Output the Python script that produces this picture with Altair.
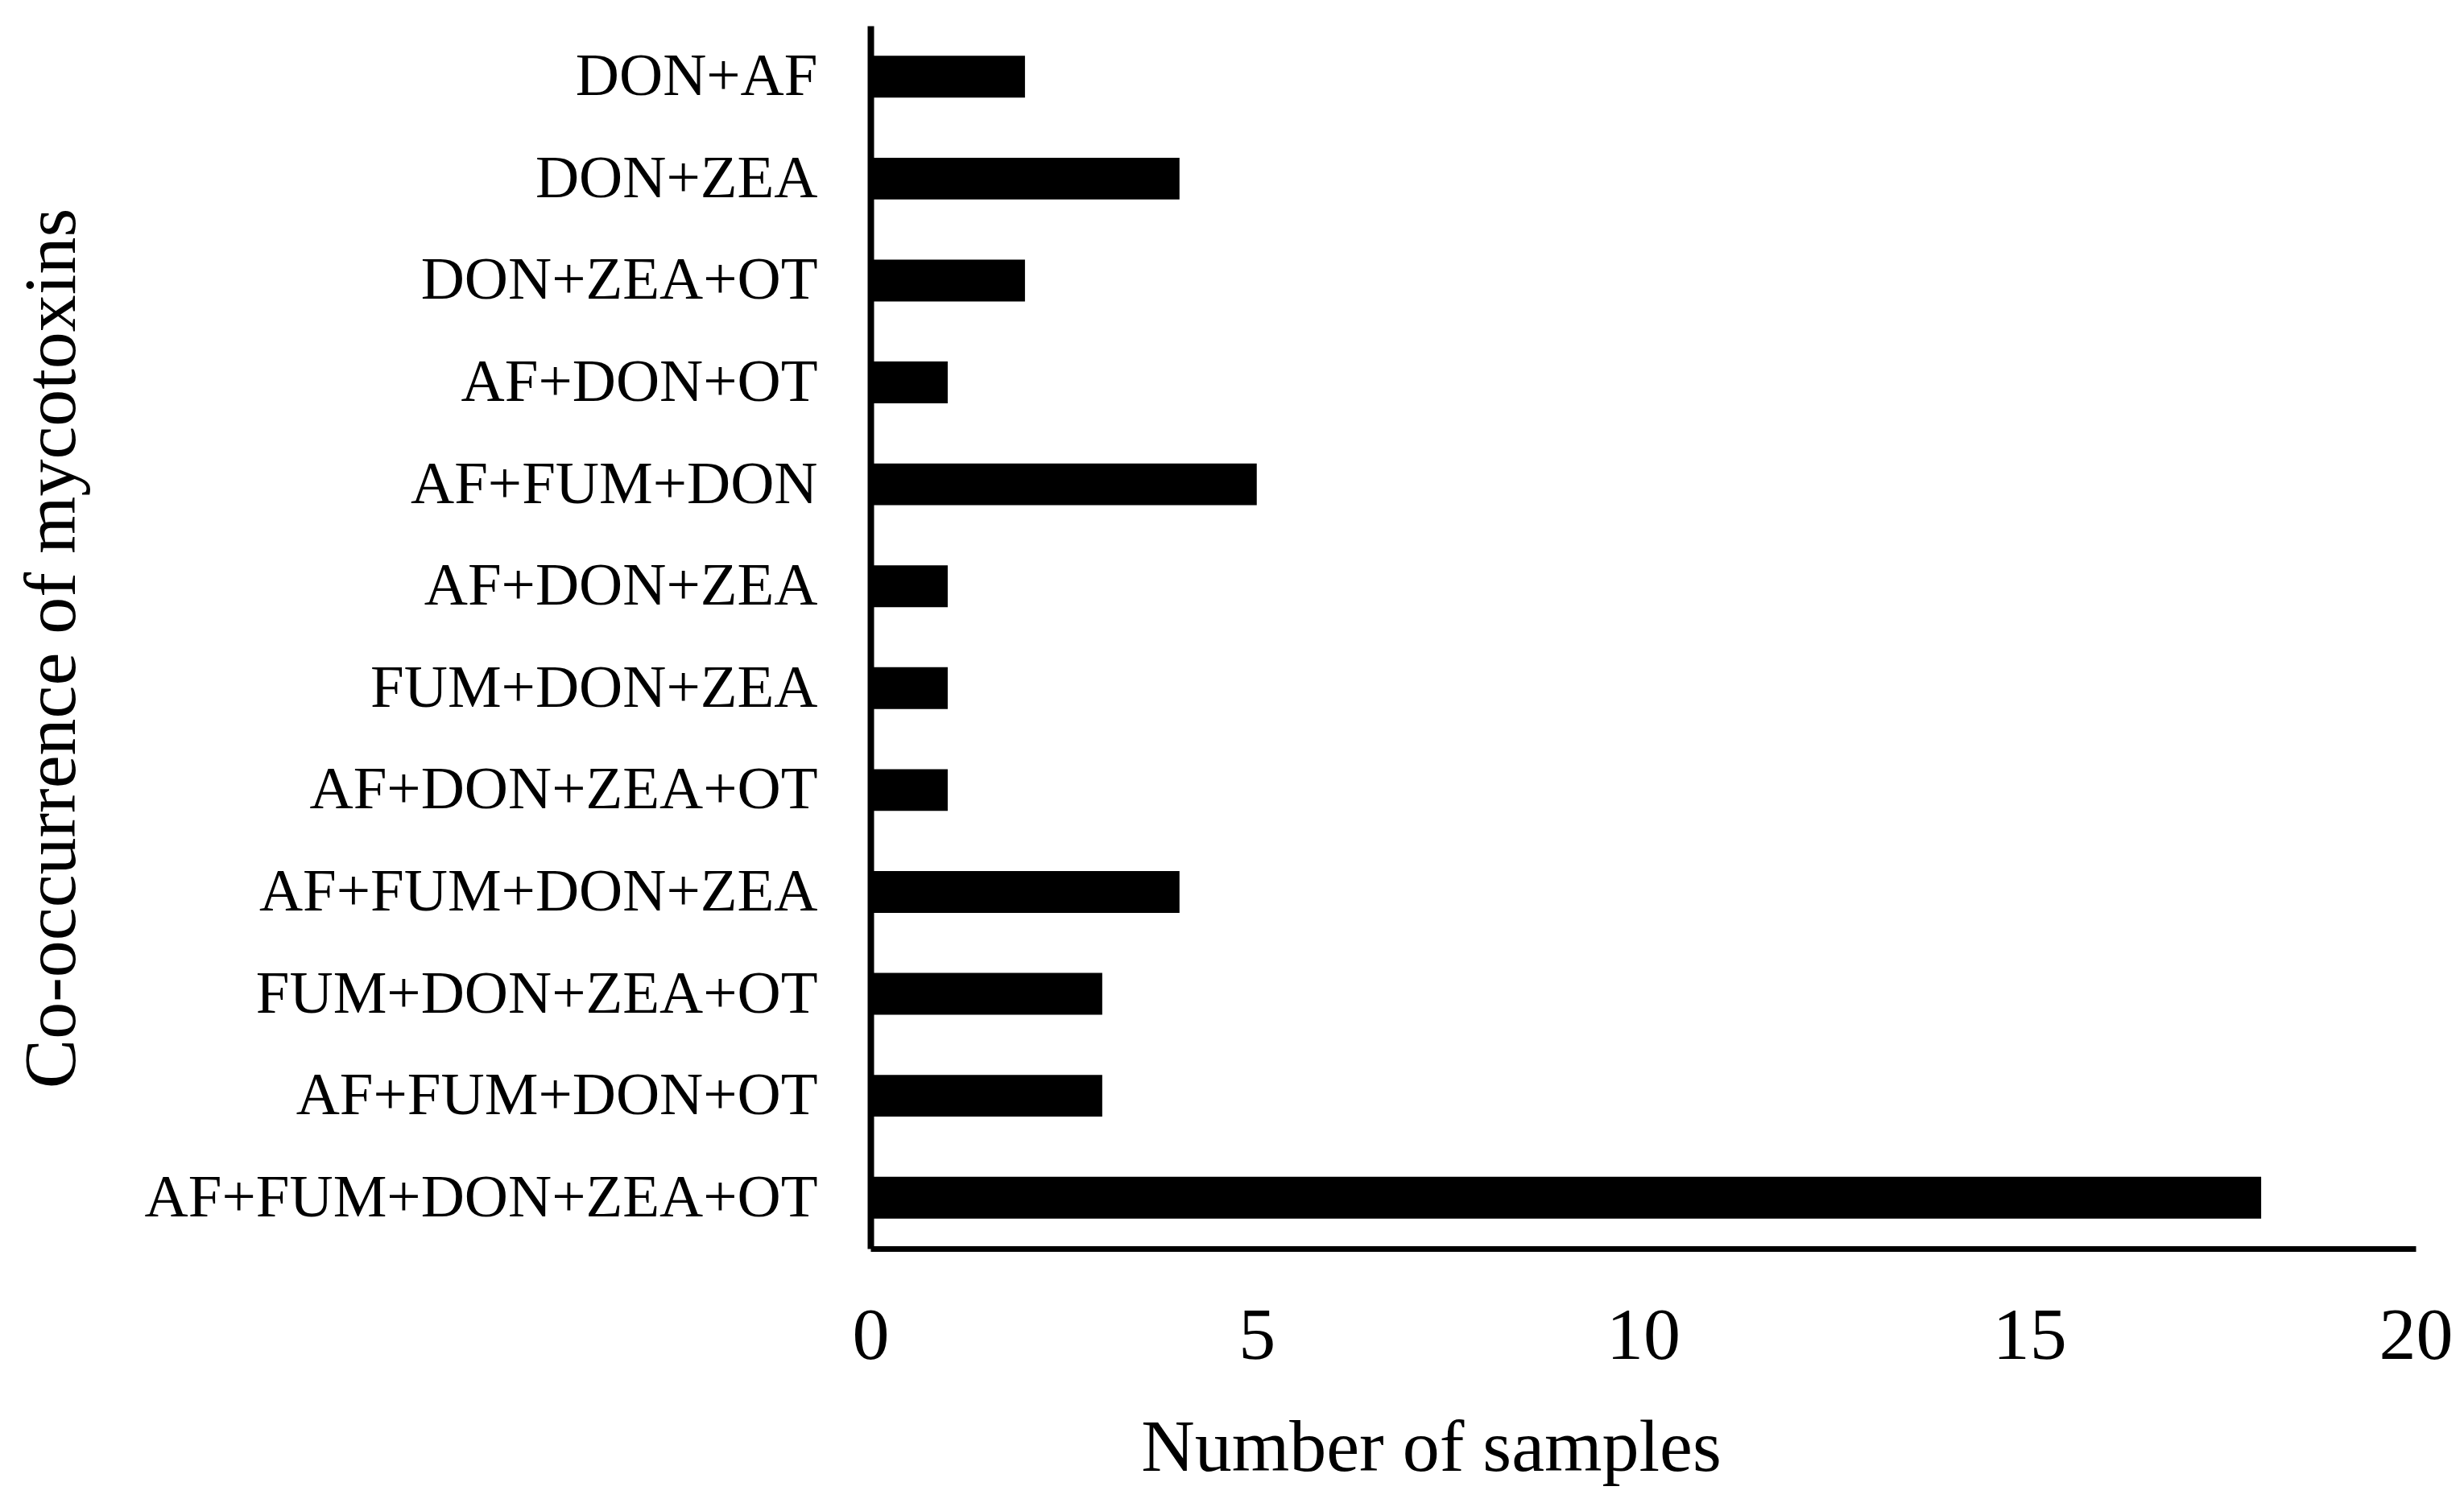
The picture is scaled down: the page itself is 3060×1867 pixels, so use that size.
import altair as alt
import pandas as pd

categories = [
    "DON+AF",
    "DON+ZEA",
    "DON+ZEA+OT",
    "AF+DON+OT",
    "AF+FUM+DON",
    "AF+DON+ZEA",
    "FUM+DON+ZEA",
    "AF+DON+ZEA+OT",
    "AF+FUM+DON+ZEA",
    "FUM+DON+ZEA+OT",
    "AF+FUM+DON+OT",
    "AF+FUM+DON+ZEA+OT",
]
samples = [2, 4, 2, 1, 5, 1, 1, 1, 4, 3, 3, 18]
x_ticks = [0, 5, 10, 15, 20]

df = pd.DataFrame({"combo": categories, "n": samples})

FONT = "Liberation Serif"

chart = (
    alt.Chart(df)
    .mark_bar(color="black")
    .encode(
        x=alt.X(
            "n:Q",
            scale=alt.Scale(domain=[0, 20], nice=False, zero=True),
            axis=alt.Axis(
                title="Number of samples",
                values=x_ticks,
                grid=False,
                ticks=False,
                tickSize=0,
                domainColor="black",
                domainWidth=7,
                labelFont=FONT,
                labelFontSize=92,
                labelColor="black",
                labelPadding=63,
                labelFlush=False,
                titleFont=FONT,
                titleFontSize=92,
                titleFontWeight="normal",
                titleColor="black",
                titleX=696,
                titleY=275,
                titleAlign="center",
                titleBaseline="alphabetic",
            ),
        ),
        y=alt.Y(
            "combo:N",
            sort=categories,
            scale=alt.Scale(paddingInner=0.59, paddingOuter=0.295),
            axis=alt.Axis(
                title="Co-occurrence of mycotoxins",
                grid=False,
                ticks=False,
                tickSize=0,
                domainColor="black",
                domainWidth=8,
                labelFont=FONT,
                labelFontSize=75,
                labelColor="black",
                labelPadding=66,
                labelLimit=2000,
                titleFont=FONT,
                titleFontSize=92,
                titleFontWeight="normal",
                titleColor="black",
                titleAngle=270,
                titleX=-989,
                titleY=773,
                titleAlign="center",
                titleBaseline="alphabetic",
            ),
        ),
    )
    .properties(
        width=1919,
        height=1519,
        autosize=alt.AutoSizeParams(type="none"),
        padding={"left": 1073, "top": 24, "right": 50, "bottom": 302},
        background="white",
    )
    .configure_view(stroke=None)
)

chart.save("out.html", embed_options={"renderer": "svg", "actions": False})
